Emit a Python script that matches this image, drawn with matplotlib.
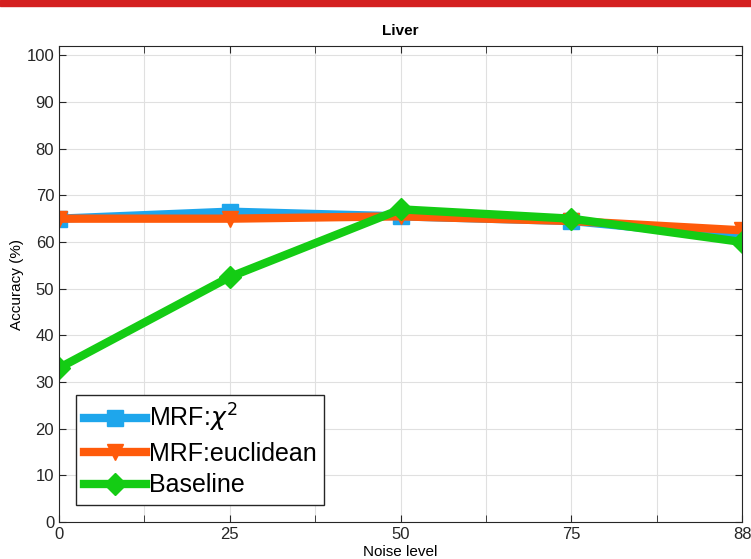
import matplotlib.pyplot as plt
import numpy as np
from matplotlib.patches import Rectangle

plt.rcParams['font.family'] = ['Liberation Sans', 'DejaVu Sans']

noise_levels = ['0', '25', '50', '75', '88']
mrf_chi2 = [65.0, 66.5, 65.5, 64.5, 61.0]
mrf_euclid = [65.0, 65.0, 65.5, 64.5, 62.5]
baseline = [33.0, 52.5, 67.0, 65.0, 60.0]

blue = '#1ea6ec'
orange = '#ff5a0a'
green = '#14cc14'

fig = plt.figure(figsize=(7.51, 5.59), dpi=100)
ax = fig.add_axes([59/751, 1 - 522/559, (742-59)/751, (522-46)/559])

# red banner strip at top
fig.patches.append(Rectangle((0, 1 - 6/559), 1, 6/559, transform=fig.transFigure,
                             color='#d42020', zorder=0))

x = np.arange(len(noise_levels))
lw = 6
ax.plot(x, mrf_chi2, color=blue, lw=lw, marker='s', ms=11, label=r'MRF:$\chi^2$')
ax.plot(x, mrf_euclid, color=orange, lw=lw, marker='v', ms=12, label='MRF:euclidean')
ax.plot(x, baseline, color=green, lw=lw, marker='D', ms=11, label='Baseline')

ax.set_xlim(0, 4)
ax.set_ylim(0, 102)
ax.set_xticks(x)
ax.set_xticklabels(noise_levels)
ax.set_xticks(np.arange(0.5, 4, 1), minor=True)
ax.set_yticks(np.arange(0, 101, 10))
ax.grid(True, which='both', color='#e0e0e0', lw=0.8)
ax.set_axisbelow(True)
ax.tick_params(which='both', direction='in', top=True, right=True, length=5,
               labelsize=12, colors='#262626')
for s in ax.spines.values():
    s.set_color('#262626')

ax.set_title('Liver', fontsize=11, fontweight='bold', pad=8)
ax.set_ylabel('Accuracy (%)', fontsize=11, labelpad=2)
ax.set_xlabel('Noise level', fontsize=11, labelpad=2)

leg = ax.legend(loc='lower left', fontsize=18, handlelength=2.5, handletextpad=0.1,
                labelspacing=0.3, borderpad=0.3, borderaxespad=0, fancybox=False,
                framealpha=1, edgecolor='#262626', bbox_to_anchor=(0.025, 0.036))
leg.get_frame().set_linewidth(1)

fig.savefig('out.png', dpi=100)
